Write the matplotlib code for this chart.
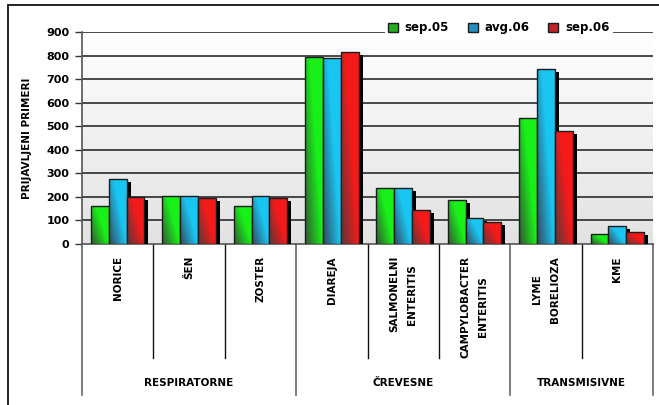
import numpy as np
import matplotlib
matplotlib.use("Agg")
import matplotlib.pyplot as plt
import matplotlib.transforms as mtransforms
from matplotlib.colors import LinearSegmentedColormap
from matplotlib.patches import Rectangle
from matplotlib.lines import Line2D

categories = ["NORICE", "ŠEN", "ZOSTER", "DIAREJA", "SALMONELNI\nENTERITIS",
              "CAMPYLOBACTER\nENTERITIS", "LYME\nBORELIOZA", "KME"]
groups = ["RESPIRATORNE", "ČREVESNE", "TRANSMISIVNE"]
group_sizes = [3, 3, 2]
series_names = ["sep.05", "avg.06", "sep.06"]
sep05 = [161, 205, 163, 794, 236, 185, 536, 42]
avg06 = [277, 205, 205, 788, 236, 112, 744, 75]
sep06 = [200, 194, 195, 813, 144, 95, 481, 50]
series = [sep05, avg06, sep06]
yticks = [0, 100, 200, 300, 400, 500, 600, 700, 800, 900]

dark_cols = ["#345434", "#35495e", "#583838"]
bright_cols = ["#19f019", "#19c6f2", "#f51a1a"]
mid_cols = ["#22b022", "#2090c0", "#c02525"]

W, H, DPI = 659, 405, 100
fig = plt.figure(figsize=(W / DPI, H / DPI), dpi=DPI)
fig.patch.set_facecolor("white")
ax = fig.add_axes([82 / W, 1 - 244 / H, (653 - 82) / W, (244 - 32) / H])
ax.set_xlim(-0.5, len(categories) - 0.5)
ax.set_ylim(0, 900)

# background gradient
bg = np.linspace(0, 1, 256).reshape(-1, 1)
bg_cmap = LinearSegmentedColormap.from_list("bg", ["#e2e2e2", "#ffffff"])
ax.imshow(bg, aspect="auto", cmap=bg_cmap, origin="lower",
          extent=(-0.5, len(categories) - 0.5, 0, 900), zorder=0)

for y in yticks[1:]:
    ax.axhline(y, color="#1a1a1a", lw=1.1, zorder=1)

x = np.arange(len(categories))
bw = 0.25
shadow_tr = ax.transData + mtransforms.ScaledTranslation(4 / DPI, -3 / DPI, fig.dpi_scale_trans)

yy, xx = np.mgrid[0:1:100j, 0:1:40j]
grad = np.clip(0.75 * xx + 0.55 * yy, 0, 1)

for i, vals in enumerate(series):
    offs = (i - 1) * bw
    z = 2 + i * 2
    ax.bar(x + offs, vals, width=bw, color="black", zorder=z, transform=shadow_tr)
    bars = ax.bar(x + offs, vals, width=bw, facecolor="none",
                  edgecolor="#1c1c1c", linewidth=1.0, zorder=z + 1.5)
    cmap = LinearSegmentedColormap.from_list("c%d" % i,
                                             [(0, dark_cols[i]), (0.75, bright_cols[i]), (1, bright_cols[i])])
    for b in bars:
        x0, y0 = b.get_x(), b.get_y()
        im = ax.imshow(grad, cmap=cmap, origin="lower", aspect="auto",
                       extent=(x0, x0 + b.get_width(), y0, y0 + b.get_height()),
                       zorder=z + 1, interpolation="bilinear", vmin=0, vmax=1)
        im.set_clip_path(b)

ax.set_xlim(-0.5, len(categories) - 0.5)
ax.set_ylim(0, 900)
ax.set_yticks(yticks)
ax.set_yticklabels([str(t) for t in yticks], fontsize=8, fontweight="bold")
ax.tick_params(axis="y", length=5, width=1, pad=4, color="#333333")
ax.set_xticks([])
for s in ["top", "right"]:
    ax.spines[s].set_visible(False)
ax.spines["left"].set_color("#555555")
ax.spines["bottom"].set_color("#555555")
ax.spines["left"].set_linewidth(1.2)
ax.spines["bottom"].set_linewidth(1.2)
ax.set_ylabel("PRIJAVLJENI PRIMERI", fontsize=7.5, fontweight="bold", labelpad=10)

# category labels and dividers
blend = mtransforms.blended_transform_factory(ax.transData, fig.transFigure)
for i, c in enumerate(categories):
    ax.text(i, 1 - 256 / H, c, rotation=90, ha="center", va="top",
            multialignment="center", linespacing=1.9, fontsize=7.5,
            fontweight="bold", transform=blend, clip_on=False)

bounds = np.cumsum([0] + group_sizes) - 0.5
for k in range(len(categories) + 1):
    xb = k - 0.5
    if xb in bounds:
        ax.add_line(Line2D([xb, xb], [1 - 244 / H, 1 - 395 / H], color="#666666",
                           lw=1.2, transform=blend, clip_on=False))
    else:
        ax.add_line(Line2D([xb, xb], [1 - 244 / H, 1 - 358 / H], color="#111111",
                           lw=1.0, transform=blend, clip_on=False))
for g, name in enumerate(groups):
    cx = (bounds[g] + bounds[g + 1]) / 2
    ax.text(cx, 1 - 383 / H, name, ha="center", va="center", fontsize=7.5,
            fontweight="bold", transform=blend, clip_on=False)

handles = [Rectangle((0, 0), 1, 1, facecolor=mid_cols[i], edgecolor="#1c1c1c", lw=1.0)
           for i in range(3)]
leg = ax.legend(handles, series_names, loc="center", bbox_to_anchor=(0.73, 1.019),
                ncol=3, frameon=True, prop={"weight": "bold", "size": 8.5},
                handlelength=0.8, handleheight=0.8, handletextpad=0.6, columnspacing=1.6,
                borderpad=0.3, fancybox=False)
leg.get_frame().set_edgecolor("none")
leg.get_frame().set_facecolor("white")
leg.get_frame().set_alpha(1)
leg.set_zorder(20)

# outer frame
fig.add_artist(Rectangle((8 / W, -0.1), 2, 1 - 5 / H + 0.1, transform=fig.transFigure,
                         fill=False, edgecolor="#111111", lw=1.3))

fig.savefig("out.png", dpi=DPI)
